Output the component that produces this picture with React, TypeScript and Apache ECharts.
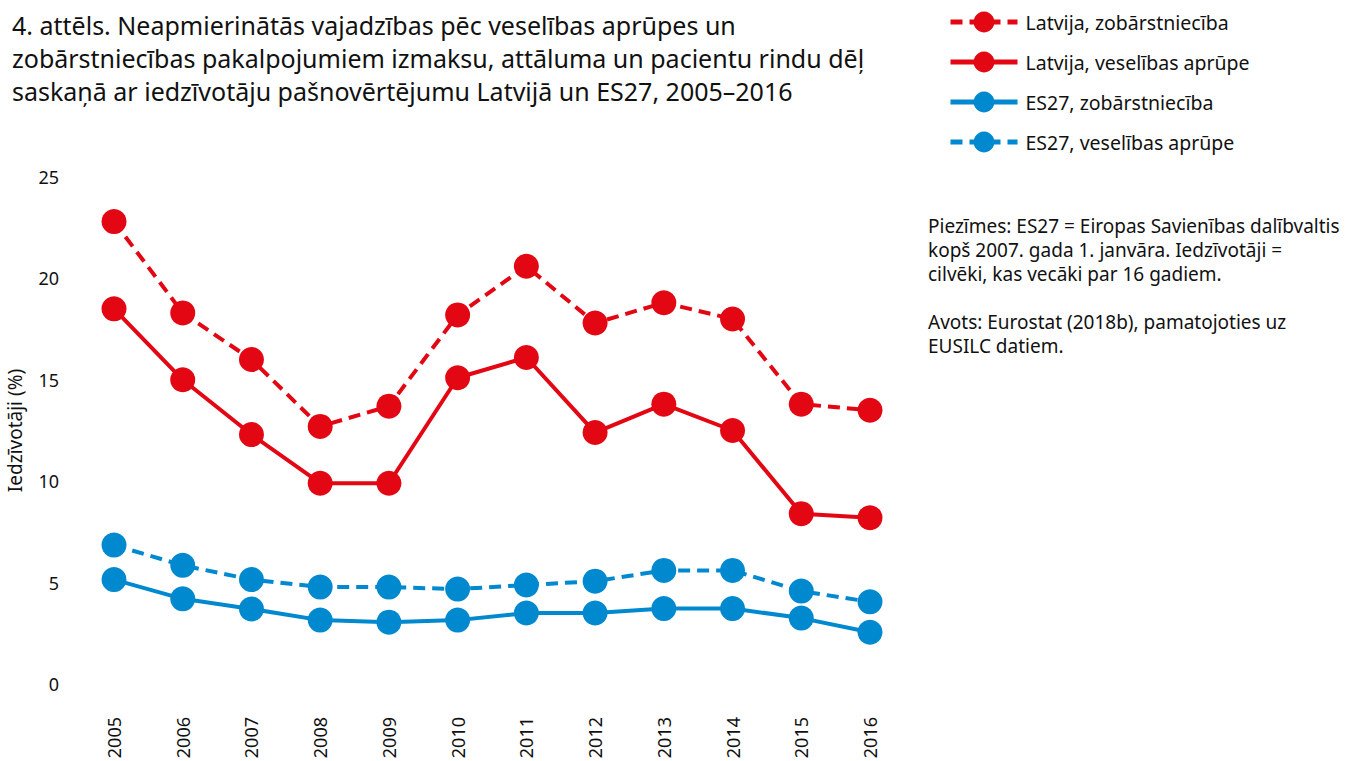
import React, { useEffect, useRef } from "react";
import * as echarts from "echarts";

const years = ["2005","2006","2007","2008","2009","2010","2011","2012","2013","2014","2015","2016"];
const lvDental = [22.8, 18.3, 16.0, 12.7, 13.7, 18.2, 20.6, 17.8, 18.8, 18.0, 13.8, 13.5];
const lvHealth = [18.5, 15.0, 12.3, 9.9, 9.9, 15.1, 16.1, 12.4, 13.8, 12.5, 8.4, 8.2];
const euDental = [5.15, 4.2, 3.7, 3.15, 3.05, 3.15, 3.5, 3.5, 3.72, 3.72, 3.25, 2.55];
const euHealth = [6.85, 5.85, 5.15, 4.78, 4.78, 4.68, 4.88, 5.07, 5.6, 5.6, 4.58, 4.05];

const seriesNames = [
  "Latvija, zobārstniecība",
  "Latvija, veselības aprūpe",
  "ES27, zobārstniecība",
  "ES27, veselības aprūpe",
];

const RED = "#e30613";
const BLUE = "#0089cf";
const FONT = "'Noto Sans', 'Open Sans', sans-serif";

const title =
  "4. attēls. Neapmierinātās vajadzības pēc veselības aprūpes un\nzobārstniecības pakalpojumiem izmaksu, attāluma un pacientu rindu dēļ\nsaskaņā ar iedzīvotāju pašnovērtējumu Latvijā un ES27, 2005–2016";
const notes =
  "Piezīmes: ES27 = Eiropas Savienības dalībvaltis\nkopš 2007. gada 1. janvāra. Iedzīvotāji =\ncilvēki, kas vecāki par 16 gadiem.\n\nAvots: Eurostat (2018b), pamatojoties uz\nEUSILC datiem.";

export default function App() {
  const ref = useRef<HTMLDivElement>(null);
  useEffect(() => {
    const chart = echarts.init(ref.current!, null, { renderer: "svg" });
    const mk = (name: string, data: number[], color: string, dashed: boolean) => ({
      name,
      type: "line",
      data,
      symbol: "circle",
      symbolSize: 25,
      itemStyle: { color },
      lineStyle: { color, width: 4, type: dashed ? [12, 7] : "solid" },
    });
    chart.setOption({
      animation: false,
      textStyle: { fontFamily: FONT },
      title: {
        text: title,
        left: 7,
        top: 3,
        textStyle: { fontFamily: FONT, fontSize: 25, fontWeight: "normal", color: "#111", lineHeight: 33 },
      },
      legend: {
        orient: "vertical",
        left: 943,
        top: 4,
        itemWidth: 67,
        itemHeight: 26,
        itemGap: 14,
        lineStyle: { width: 5 },
        textStyle: { fontFamily: FONT, fontSize: 19.5, color: "#111", padding: [0, 0, 0, 3], height: 26, lineHeight: 26 },
        data: seriesNames,
      },
      graphic: [
        {
          type: "text",
          left: 928,
          top: 214,
          style: { text: notes, fontFamily: FONT, fontSize: 19, lineHeight: 24, fill: "#111" },
        },
      ],
      grid: { left: 114, width: 756, top: 177, height: 507, outerBoundsMode: "none", containLabel: false },
      xAxis: {
        type: "category",
        data: years,
        boundaryGap: false,
        axisLine: { show: false },
        axisTick: { show: false },
        axisLabel: { rotate: 90, margin: 33, fontSize: 18, color: "#111", fontFamily: FONT },
      },
      yAxis: {
        type: "value",
        min: 0,
        max: 25,
        interval: 5,
        name: "Iedzīvotāji (%)",
        nameLocation: "middle",
        nameGap: 90,
        nameTextStyle: { fontSize: 19, color: "#111", fontFamily: FONT },
        splitLine: { show: false },
        axisLine: { show: false },
        axisTick: { show: false },
        axisLabel: { margin: 55, fontSize: 18, color: "#111", fontFamily: FONT },
      },
      series: [
        mk(seriesNames[0], lvDental, RED, true),
        mk(seriesNames[1], lvHealth, RED, false),
        mk(seriesNames[2], euDental, BLUE, false),
        mk(seriesNames[3], euHealth, BLUE, true),
      ],
    });
    return () => chart.dispose();
  }, []);
  return <div ref={ref} style={{ width: 1349, height: 761, position: "absolute", left: 0, top: 0 }} />;
}
